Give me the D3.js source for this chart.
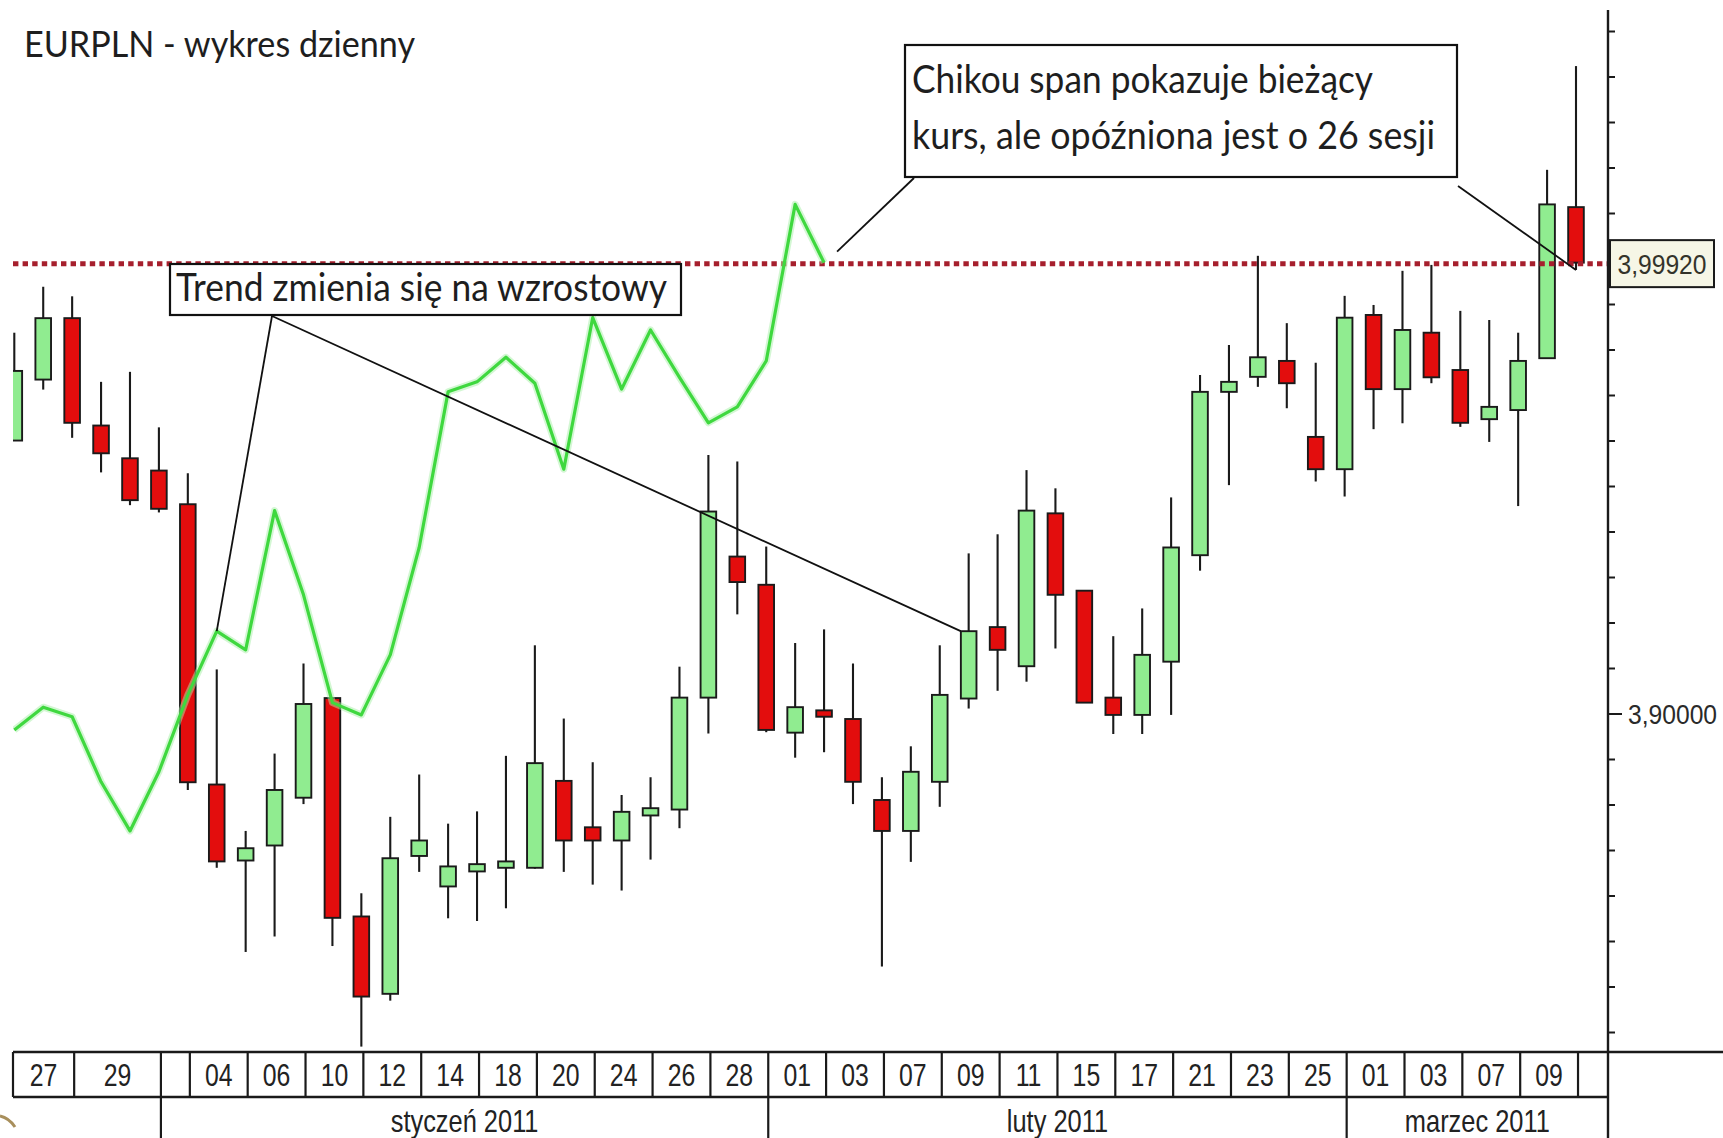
<!DOCTYPE html>
<html><head><meta charset="utf-8">
<script src="https://cdn.jsdelivr.net/npm/d3@7"></script>
<style>html,body{margin:0;padding:0;background:#fff;overflow:hidden}svg{display:block}</style>
</head><body>
<svg id="chart" width="1723" height="1138"></svg>
<script>
// ---------------- DATA ----------------
const title = "EURPLN - wykres dzienny";
const days = ["24.12","27.12","28.12","29.12","30.12","31.12","03.01","04.01","05.01","06.01","07.01","10.01","11.01","12.01","13.01","14.01","17.01","18.01","19.01","20.01","21.01","24.01","25.01","26.01","27.01","28.01","31.01","01.02","02.02","03.02","04.02","07.02","08.02","09.02","10.02","11.02","14.02","15.02","16.02","17.02","18.02","21.02","22.02","23.02","24.02","25.02","28.02","01.03","02.03","03.03","04.03","07.03","08.03","09.03","10.03"];
const open  = [3.9601,3.9735,3.9870,3.9634,3.9562,3.9535,3.9461,3.8845,3.8678,3.8711,3.8816,3.9035,3.8555,3.8385,3.8688,3.8621,3.8654,3.8662,3.8662,3.8853,3.8751,3.8722,3.8777,3.8790,3.9036,3.9346,3.9284,3.8959,3.9008,3.8989,3.8811,3.8743,3.8851,3.9034,3.9191,3.9105,3.9441,3.9271,3.9036,3.8998,3.9115,3.9349,3.9708,3.9741,3.9776,3.9609,3.9538,3.9877,3.9714,3.9838,3.9756,3.9648,3.9668,3.9782,4.0114];
const high  = [3.9838,3.9939,3.9918,3.9730,3.9752,3.9630,3.9529,3.9098,3.8743,3.8913,3.9111,3.9035,3.8606,3.8774,3.8867,3.8759,3.8786,3.8908,3.9151,3.8990,3.8894,3.8822,3.8861,3.9104,3.9569,3.9555,3.9368,3.9156,3.9186,3.9111,3.8861,3.8929,3.9151,3.9353,3.9395,3.9536,3.9496,3.9271,3.9171,3.9232,3.9476,3.9745,3.9811,4.0007,3.9859,3.9772,3.9919,3.9899,3.9974,3.9987,3.9886,3.9866,3.9838,4.0196,4.0424];
const low   = [3.9601,3.9713,3.9607,3.9531,3.9459,3.9443,3.8833,3.8662,3.8477,3.8511,3.8802,3.8490,3.8269,3.8370,3.8653,3.8551,3.8545,3.8573,3.8660,3.8653,3.8625,3.8612,3.8680,3.8749,3.8957,3.9219,3.8960,3.8904,3.8916,3.8802,3.8445,3.8675,3.8796,3.9012,3.9051,3.9071,3.9144,3.9025,3.8956,3.8956,3.8998,3.9315,3.9503,3.9719,3.9672,3.9511,3.9478,3.9626,3.9639,3.9727,3.9631,3.9598,3.9457,3.9782,3.9976];
const close = [3.9754,3.9870,3.9640,3.9573,3.9470,3.9451,3.8850,3.8676,3.8705,3.8833,3.9022,3.8552,3.8379,3.8683,3.8722,3.8665,3.8670,3.8676,3.8892,3.8722,3.8722,3.8785,3.8793,3.9036,3.9445,3.9290,3.8965,3.9015,3.8994,3.8851,3.8743,3.8873,3.9042,3.9182,3.9141,3.9447,3.9262,3.9025,3.8998,3.9130,3.9366,3.9708,3.9730,3.9784,3.9727,3.9538,3.9871,3.9714,3.9844,3.9740,3.9640,3.9675,3.9776,4.0120,3.9992];
// Chikou span (close shifted back 26 sessions)
const chikou = [3.8965,3.9015,3.8994,3.8851,3.8743,3.8873,3.9042,3.9182,3.9141,3.9447,3.9262,3.9025,3.8998,3.9130,3.9366,3.9708,3.9730,3.9784,3.9727,3.9538,3.9871,3.9714,3.9844,3.9740,3.9640,3.9675,3.9776,4.0120,3.9992];
const lastPrice = 3.9992;
const yMinorTicks = [3.83,3.84,3.85,3.86,3.87,3.88,3.89,3.90,3.91,3.92,3.93,3.94,3.95,3.96,3.97,3.98,3.99,4.00,4.01,4.02,4.03,4.04,4.05];
const yLabelTicks = [3.90];
const dateCellStarts = ["27.12","29.12","03.01","04.01","06.01","10.01","12.01","14.01","18.01","20.01","24.01","26.01","28.01","01.02","03.02","07.02","09.02","11.02","15.02","17.02","21.02","23.02","25.02","01.03","03.03","07.03","09.03","11.03"];
const dateCellLabels = ["27","29","","04","06","10","12","14","18","20","24","26","28","01","03","07","09","11","15","17","21","23","25","01","03","07","09",""];
const monthStarts = ["03.01","01.02","01.03"];
const monthLabels = ["styczeń 2011","luty 2011","marzec 2011"];
const noteChikou = ["Chikou span pokazuje bieżący","kurs, ale opóźniona jest o 26 sesji"];
const noteTrend = "Trend zmienia się na wzrostowy";

// ---------------- LAYOUT ----------------
const W = 1723, H = 1138;
const plotLeft = 13, axisX = 1608, dateTop = 1052, dateMid = 1097;
const svg = d3.select("#chart");

const x = d3.scalePoint().domain(days).range([14.3, 1576]);
const step = x.step();
const xIdx = i => x.range()[0] + i * step;
const xDay = d => { const k = days.indexOf(d); return k >= 0 ? x(d) : xIdx(days.length); };
const y = d3.scaleLinear().domain([3.90, 4.00]).range([714, 259]);
const plFmt = d3.formatLocale({decimal: ",", thousands: " ", grouping: [3], currency: ["", " zł"]}).format(".5f");

const GREEN = "#90ec90", RED = "#e30d0d", INK = "#1a1a1a";

svg.append("defs").append("clipPath").attr("id", "plotclip")
  .append("rect").attr("x", plotLeft).attr("y", 0).attr("width", axisX - plotLeft).attr("height", dateTop);

const plot = svg.append("g").attr("clip-path", "url(#plotclip)");

const idx = d3.range(days.length);
// wicks
plot.append("g").selectAll("line").data(idx).join("line")
  .attr("x1", i => x(days[i])).attr("x2", i => x(days[i]))
  .attr("y1", i => y(high[i])).attr("y2", i => y(low[i]))
  .attr("stroke", INK).attr("stroke-width", 2.1);
// bodies
const bw = step * 0.54;
plot.append("g").selectAll("rect").data(idx).join("rect")
  .attr("x", i => x(days[i]) - bw / 2)
  .attr("y", i => y(Math.max(open[i], close[i])))
  .attr("width", bw)
  .attr("height", i => Math.max(2.5, Math.abs(y(open[i]) - y(close[i]))))
  .attr("fill", i => close[i] >= open[i] ? GREEN : RED)
  .attr("stroke", INK).attr("stroke-width", 1.9);

// last price dotted line
plot.append("line")
  .attr("x1", plotLeft).attr("x2", axisX)
  .attr("y1", y(lastPrice) + 1).attr("y2", y(lastPrice) + 1)
  .attr("stroke", "#a61f2d").attr("stroke-width", 5).attr("stroke-dasharray", "5.4 4.2");

// chikou span
const line = d3.line().x((d, i) => x(days[i])).y(d => y(d));
plot.append("path").datum(chikou).attr("d", line)
  .attr("fill", "none").attr("stroke", "#a8f0a8").attr("stroke-width", 7).attr("stroke-opacity", 0.5)
  .attr("stroke-linejoin", "round");
plot.append("path").datum(chikou).attr("d", line)
  .attr("fill", "none").attr("stroke", "#3fd83f").attr("stroke-width", 3.2)
  .attr("stroke-linejoin", "round");

// ---------------- RIGHT AXIS ----------------
const ax = svg.append("g");
ax.append("line").attr("x1", axisX).attr("x2", axisX).attr("y1", 10).attr("y2", H)
  .attr("stroke", INK).attr("stroke-width", 2.4);
ax.selectAll("line.tk").data(yMinorTicks).join("line").attr("class", "tk")
  .attr("x1", axisX).attr("x2", d => yLabelTicks.includes(d) ? axisX + 14 : axisX + 7)
  .attr("y1", d => y(d)).attr("y2", d => y(d))
  .attr("stroke", INK).attr("stroke-width", 2);
ax.selectAll("text.tl").data(yLabelTicks).join("text").attr("class", "tl")
  .attr("transform", d => `translate(${axisX + 20},${y(d)}) scale(0.88,1)`)
  .attr("dy", "0.36em")
  .attr("font-family", "Liberation Sans, Arial, sans-serif").attr("font-size", 28).attr("fill", "#2a2a2a")
  .text(d => plFmt(d));
// last price label
const lp = ax.append("g").attr("transform", `translate(${axisX + 2},${y(lastPrice) + 1})`);
lp.append("rect").attr("x", 0).attr("y", -23.5).attr("width", 104).attr("height", 47)
  .attr("fill", "#f6f6e6").attr("stroke", INK).attr("stroke-width", 2);
lp.append("text").attr("transform", "translate(52,0) scale(0.88,1)").attr("dy", "0.36em")
  .attr("text-anchor", "middle")
  .attr("font-family", "Liberation Sans, Arial, sans-serif").attr("font-size", 28).attr("fill", "#33332a")
  .text(plFmt(lastPrice));

// ---------------- DATE AXIS ----------------
const da = svg.append("g");
da.append("line").attr("x1", plotLeft).attr("x2", W).attr("y1", dateTop).attr("y2", dateTop)
  .attr("stroke", INK).attr("stroke-width", 2.4);
da.append("line").attr("x1", plotLeft).attr("x2", axisX).attr("y1", dateMid).attr("y2", dateMid)
  .attr("stroke", INK).attr("stroke-width", 2.4);
const cellOff = step * 0.93;
const cells = dateCellStarts.map((d, i) => {
  const s = i === 0 ? plotLeft : xDay(d) - cellOff;
  const e = i < dateCellStarts.length - 1 ? xDay(dateCellStarts[i + 1]) - cellOff : axisX;
  return {s, e, label: dateCellLabels[i]};
});
da.selectAll("line.cb").data(cells).join("line").attr("class", "cb")
  .attr("x1", d => d.s).attr("x2", d => d.s).attr("y1", dateTop).attr("y2", dateMid)
  .attr("stroke", INK).attr("stroke-width", 2.2);
da.selectAll("text.cl").data(cells).join("text").attr("class", "cl")
  .attr("transform", d => `translate(${(d.s + d.e) / 2},1086) scale(0.8,1)`)
  .attr("text-anchor", "middle")
  .attr("font-family", "Liberation Sans, Arial, sans-serif").attr("font-size", 31).attr("fill", "#222")
  .text(d => d.label);
const months = monthStarts.map((d, i) => ({
  s: xDay(d) - cellOff,
  e: i < monthStarts.length - 1 ? xDay(monthStarts[i + 1]) - cellOff : axisX,
  label: monthLabels[i]
}));
da.selectAll("line.mb").data(months).join("line").attr("class", "mb")
  .attr("x1", d => d.s).attr("x2", d => d.s).attr("y1", dateMid).attr("y2", H)
  .attr("stroke", INK).attr("stroke-width", 2.2);
da.selectAll("text.ml").data(months).join("text").attr("class", "ml")
  .attr("transform", d => `translate(${(d.s + d.e) / 2},1132) scale(0.82,1)`)
  .attr("text-anchor", "middle")
  .attr("font-family", "Liberation Sans, Arial, sans-serif").attr("font-size", 31).attr("fill", "#222")
  .text(d => d.label);

// small slide decoration (bottom-left swoosh)
svg.append("path").attr("d", "M0,1116 Q9,1118 15,1127").attr("fill", "none")
  .attr("stroke", "#a88f5c").attr("stroke-width", 3);

// ---------------- TITLE & NOTES ----------------
const FONT = "Lato, 'Open Sans', sans-serif";
svg.append("text").attr("x", 24).attr("y", 57)
  .attr("font-family", FONT).attr("font-size", 37).attr("fill", "#1e1e1e")
  .attr("textLength", 391).attr("lengthAdjust", "spacingAndGlyphs").text(title);

const notes = svg.append("g");
// leader lines
const lead = [
  [[272, 316], [x(days[7]), y(chikou[7])]],
  [[272, 316], [x(days[33]) - 8, y(close[33])]],
  [[914, 178], [x(days[28]) + 13, y(chikou[28]) - 11]],
  [[1458, 186], [x(days[54]), y(low[54])]]
];
notes.selectAll("line").data(lead).join("line")
  .attr("x1", d => d[0][0]).attr("y1", d => d[0][1]).attr("x2", d => d[1][0]).attr("y2", d => d[1][1])
  .attr("stroke", "#111").attr("stroke-width", 1.8);

notes.append("rect").attr("x", 905).attr("y", 45).attr("width", 552).attr("height", 132)
  .attr("fill", "#fff").attr("stroke", "#111").attr("stroke-width", 2.2);
notes.selectAll("text.nc").data(noteChikou).join("text").attr("class", "nc")
  .attr("x", 912).attr("y", (d, i) => 93 + i * 55.5)
  .attr("font-family", FONT).attr("font-size", 38).attr("fill", "#1e1e1e")
  .attr("textLength", (d, i) => i === 0 ? 461 : 523).attr("lengthAdjust", "spacingAndGlyphs")
  .text(d => d);

notes.append("rect").attr("x", 170).attr("y", 264).attr("width", 511).attr("height", 51)
  .attr("fill", "#fff").attr("stroke", "#111").attr("stroke-width", 2.2);
notes.append("text").attr("x", 176).attr("y", 301)
  .attr("font-family", FONT).attr("font-size", 38).attr("fill", "#1e1e1e")
  .attr("textLength", 491).attr("lengthAdjust", "spacingAndGlyphs").text(noteTrend);
</script>
</body></html>
